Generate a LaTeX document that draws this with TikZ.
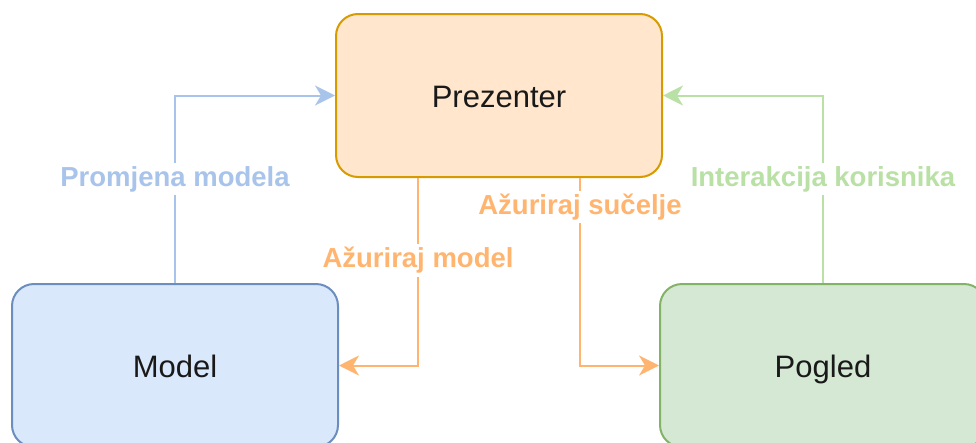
\documentclass[tikz,border=0pt]{standalone}
\usepackage{fontspec}
\setmainfont{Liberation Sans}
\usetikzlibrary{arrows.meta}
\definecolor{prezfill}{HTML}{FFE6CC}
\definecolor{prezline}{HTML}{D79B00}
\definecolor{modfill}{HTML}{DAE8FC}
\definecolor{modline}{HTML}{6C8EBF}
\definecolor{pogfill}{HTML}{D5E8D4}
\definecolor{pogline}{HTML}{82B366}
\definecolor{eblue}{HTML}{A9C4EB}
\definecolor{eorange}{HTML}{FFB570}
\definecolor{egreen}{HTML}{B9E0A5}
\tikzset{
  box/.style={draw, line width=2pt, rounded corners=22pt, minimum width=326pt, minimum height=163pt,
    inner sep=0pt, text height=30pt, text depth=7pt, text=black!90, font=\fontsize{31}{36}\selectfont},
  edge/.style={line width=2pt, -{Stealth[length=20pt,width=20pt,inset=6pt]}},
  lbl/.style={fill=white, inner sep=3pt, font=\bfseries\fontsize{27.5}{32}\selectfont}
}
\begin{document}
\begin{tikzpicture}[x=1pt,y=-1pt]
\useasboundingbox (0,0) rectangle (976,442);
\clip (0,0) rectangle (976,442);
\node[box, fill=prezfill, draw=prezline] (prez) at (499,95.5) {Prezenter};
\node[box, fill=modfill, draw=modline] (model) at (175,365.5) {Model};
\node[box, fill=pogfill, draw=pogline] (pog) at (823,365.5) {Pogled};
\draw[edge, eblue] (model.north) |- node[lbl, pos=0.277, text=eblue] {Promjena modela} (prez.west);
\draw[edge, egreen] (pog.north) |- node[lbl, pos=0.277, text=egreen] {Interakcija korisnika} (prez.east);
\draw[edge, eorange] ([xshift=-81pt]prez.south) |- node[lbl, pos=0.22, text=eorange] {Ažuriraj model} (model.east);
\draw[edge, eorange] ([xshift=81pt]prez.south) |- node[lbl, pos=0.077, text=eorange] {Ažuriraj sučelje} (pog.west);
\end{tikzpicture}
\end{document}
